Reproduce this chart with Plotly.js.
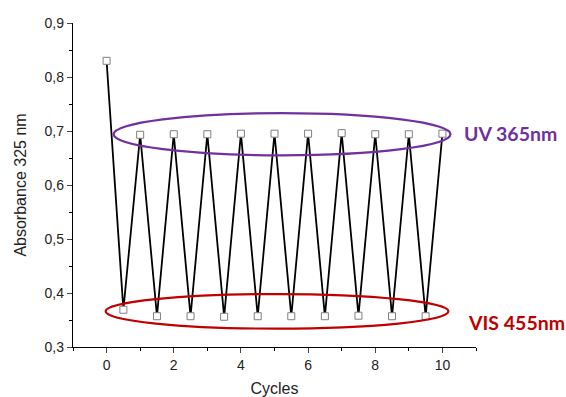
<!DOCTYPE html>
<html>
<head>
<meta charset="utf-8">
<script src="https://cdn.plot.ly/plotly-3.0.1.min.js"></script>
<style>html,body{margin:0;padding:0;background:#fff;}#chart{width:566px;height:397px;}</style>
</head>
<body>
<div id="chart"></div>
<script>
const cycles = [0, 0.5, 1, 1.5, 2, 2.5, 3, 3.5, 4, 4.5, 5, 5.5, 6, 6.5, 7, 7.5, 8, 8.5, 9, 9.5, 10];
const absorbance = [0.830, 0.369, 0.693, 0.357, 0.694, 0.357, 0.694, 0.356, 0.695, 0.357, 0.695, 0.357, 0.695, 0.357, 0.696, 0.358, 0.694, 0.357, 0.694, 0.357, 0.695];
const labelUV = "UV 365nm";
const labelVIS = "VIS 455nm";
const xTicks = [0, 2, 4, 6, 8, 10];
const yTicks = [0.3, 0.4, 0.5, 0.6, 0.7, 0.8, 0.9];

const purple = "#7030A0";
const red = "#C00000";

const trace = {
  x: cycles, y: absorbance, type: "scatter", mode: "lines+markers",
  line: {color: "#000", width: 1.8},
  marker: {symbol: "square", size: 7, color: "#fff", line: {color: "#7f7f7f", width: 1}},
  hoverinfo: "skip"
};

const layout = {
  width: 566, height: 397,
  margin: {l: 73, r: 90, t: 23, b: 50},
  paper_bgcolor: "#fff", plot_bgcolor: "#fff",
  separators: ", ",
  showlegend: false,
  font: {family: "Liberation Sans, Arial, sans-serif", size: 14, color: "#222"},
  xaxis: {
    range: [-1, 11], tickvals: xTicks, ticks: "outside", ticklen: 5, tickwidth: 1,
    showline: true, linecolor: "#000", linewidth: 1.2, showgrid: false, zeroline: false,
    minor: {dtick: 1, ticks: "outside", ticklen: 3, tickcolor: "#000", showgrid: false},
    tickfont: {size: 14},
    title: {text: "Cycles", font: {size: 16}, standoff: 12}
  },
  yaxis: {
    range: [0.3, 0.9], tickvals: yTicks, tickformat: ".1f", ticks: "outside", ticklen: 5, tickwidth: 1,
    showline: true, linecolor: "#000", linewidth: 1.2, showgrid: false, zeroline: false,
    minor: {dtick: 0.05, ticks: "outside", ticklen: 3, tickcolor: "#000", showgrid: false},
    tickfont: {size: 14},
    title: {text: "Absorbance 325 nm", font: {size: 16}, standoff: 14}
  },
  shapes: [
    {type: "circle", xref: "x", yref: "y", x0: 0.21, x1: 10.24, y0: 0.655, y1: 0.733,
     line: {color: purple, width: 2.2}, fillcolor: "rgba(0,0,0,0)"},
    {type: "circle", xref: "x", yref: "y", x0: -0.03, x1: 10.18, y0: 0.334, y1: 0.398,
     line: {color: red, width: 2.2}, fillcolor: "rgba(0,0,0,0)"}
  ],
  annotations: [
    {text: "<b>" + labelUV + "</b>", xref: "paper", yref: "y", x: 0.965, y: 0.696, xanchor: "left", yanchor: "middle",
     showarrow: false, font: {family: "Lato, Open Sans, sans-serif", size: 19.5, color: purple}},
    {text: "<b>" + labelVIS + "</b>", xref: "paper", yref: "y", x: 0.975, y: 0.346, xanchor: "left", yanchor: "middle",
     showarrow: false, font: {family: "Lato, Open Sans, sans-serif", size: 19.5, color: red}}
  ]
};

Plotly.newPlot("chart", [trace], layout, {displayModeBar: false, staticPlot: true});
</script>
</body>
</html>
